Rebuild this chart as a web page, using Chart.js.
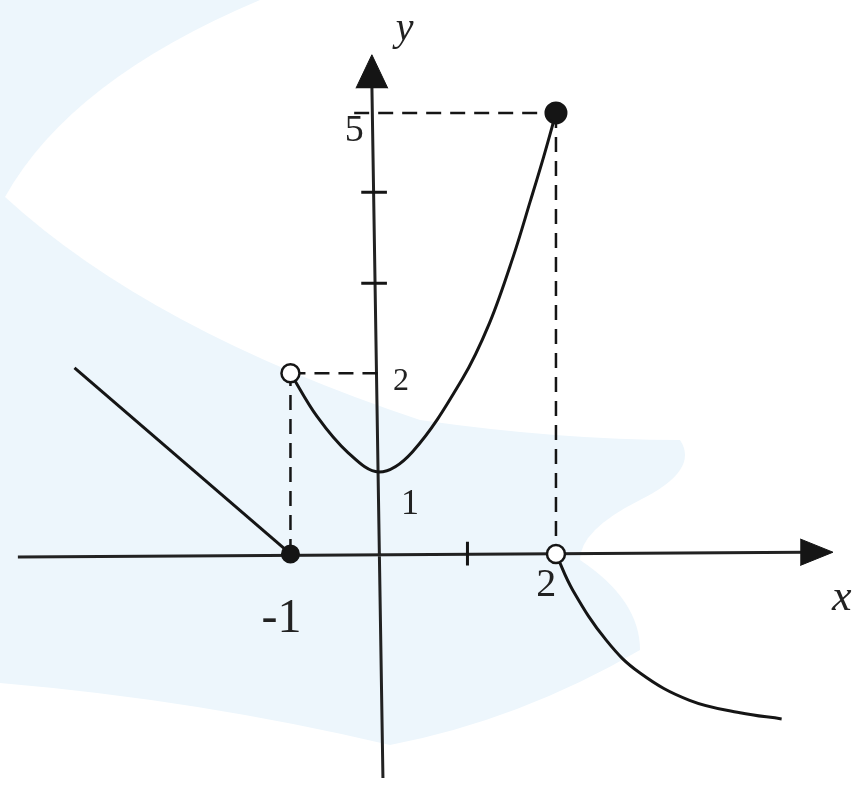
<!DOCTYPE html>
<html>
<head>
<meta charset="utf-8">
<script src="https://cdn.jsdelivr.net/npm/chart.js@4.4.1/dist/chart.umd.min.js"></script>
<style>
  html, body { margin: 0; padding: 0; background: #fff; }
  #wrap { width: 852px; height: 787px; }
</style>
</head>
<body>
<div id="wrap"><canvas id="graph" width="852" height="787"></canvas></div>
<script>
// values (one x unit ~ 88.5px, one y unit ~ 88.2px)
const rayX = [-3.44, -1];
const rayY = [2.11, 0];
const parabolaX = [-1, -0.7, -0.35, 0, 0.38, 0.94, 1.25, 1.52, 1.71, 1.86, 2];
const parabolaY = [2.05, 1.56, 1.15, 0.93, 1.16, 1.98, 2.62, 3.38, 4.0, 4.5, 5];
const tailX = [2, 2.19, 2.57, 2.95, 3.51, 4.08, 4.55];
const tailY = [0, -0.41, -0.98, -1.35, -1.66, -1.80, -1.87];

const closedX = [-1, 2];
const closedY = [0, 5];
const openX = [-1, 2];
const openY = [2.05, 0];

// dashed guides, one pair per segment
const guideX = [[-1, -1], [-1, 0.05], [-0.28, 2], [2, 2]];
const guideY = [[0, 2.05], [2.05, 2.05], [5, 5], [5, 0]];

// axes (the scan is a little tilted) and arrow heads
const axisX = [[-4.08, 4.81], [0.045, -0.08]];
const axisY = [[-0.034, 0.02], [-2.54, 5.32]];
const arrowX = [[4.76, 5.13, 4.76], [-0.26, -0.08, 0.10]];
const arrowY = [[0.17, 0.02, -0.13], [5.28, 5.66, 5.28]];

const xTicks = [1];
const yTicks = [3.07, 4.1];

const labelText = ['y', 'x', '5', '2', '1', '-1', '2'];
const labelX = [0.29, 5.23, -0.28, 0.25, 0.35, -1.10, 1.89];
const labelY = [5.95, -0.5, 4.8, 1.95, 0.56, -0.74, -0.36];

const pts = (xs, ys) => xs.map((x, i) => ({ x, y: ys[i] }));
const segs = (xs, ys) => {
    const out = [];
    xs.forEach((sx, i) => {
        if (i) out.push({ x: sx[0], y: null });
        out.push(...pts(sx, ys[i]));
    });
    return out;
};

const ink = '#151515';

const tickSegs = segs(
    [...xTicks.map(v => [v, v]), ...yTicks.map(() => [-0.2, 0.09])],
    [...xTicks.map(() => [0.14, -0.13]), ...yTicks.map(v => [v, v])]
);

// faint logo behind the drawing
const watermark = {
    id: 'watermark',
    beforeDraw(chart) {
        const c = chart.ctx;
        c.save();
        c.fillStyle = '#fff';
        c.fillRect(0, 0, chart.width, chart.height);
        c.fillStyle = '#edf6fc';
        c.beginPath();
        c.moveTo(0, 0);
        c.lineTo(260, 0);
        c.quadraticCurveTo(70, 80, 5, 197);
        c.quadraticCurveTo(150, 330, 420, 420);
        c.quadraticCurveTo(560, 440, 680, 440);
        c.quadraticCurveTo(700, 470, 640, 500);
        c.quadraticCurveTo(580, 530, 580, 560);
        c.quadraticCurveTo(640, 600, 640, 650);
        c.quadraticCurveTo(520, 720, 390, 745);
        c.quadraticCurveTo(200, 700, 0, 683);
        c.closePath();
        c.fill();
        c.restore();
    }
};

const labels = {
    id: 'labels',
    afterDraw(chart) {
        const c = chart.ctx, sx = chart.scales.x, sy = chart.scales.y;
        const fonts = ['italic 40px "Liberation Serif"', 'italic 44px "Liberation Serif"',
            '38px "Liberation Serif"', '32px "Liberation Serif"', '36px "Liberation Serif"',
            '48px "Liberation Serif"', '40px "Liberation Serif"'];
        c.save();
        c.fillStyle = '#222';
        c.textAlign = 'center';
        c.textBaseline = 'middle';
        labelText.forEach((t, i) => {
            c.font = fonts[i];
            c.fillText(t, sx.getPixelForValue(labelX[i]), sy.getPixelForValue(labelY[i]));
        });
        c.restore();
    }
};

const line = (data, extra) => Object.assign({
    data, borderColor: ink, borderWidth: 3, pointRadius: 0, fill: false, spanGaps: false
}, extra);

new Chart(document.getElementById('graph'), {
    type: 'line',
    data: {
        datasets: [
            line(pts(openX, openY), { showLine: false, pointRadius: 9, pointBorderWidth: 2.5,
                pointBackgroundColor: '#fff', pointBorderColor: ink }),
            line(pts(closedX, closedY), { showLine: false, pointRadius: [8, 10],
                pointBackgroundColor: ink, pointBorderColor: ink }),
            line(pts(rayX, rayY)),
            line(pts(parabolaX, parabolaY), { tension: 0.35 }),
            line(pts(tailX, tailY), { tension: 0.4 }),
            line(segs(guideX, guideY), { borderWidth: 2.5, borderDash: [15, 9] }),
            line(tickSegs, { borderWidth: 3 }),
            line(pts(arrowX[0], arrowY[0]), { fill: 'shape', backgroundColor: ink, borderWidth: 1 }),
            line(pts(arrowX[1], arrowY[1]), { fill: 'shape', backgroundColor: ink, borderWidth: 1 }),
            line(segs(axisX, axisY), { borderWidth: 3, borderColor: '#222' })
        ]
    },
    options: {
        responsive: false,
        animation: false,
        events: [],
        layout: { padding: 0, autoPadding: false },
        plugins: { legend: { display: false }, tooltip: { enabled: false } },
        scales: {
            x: { type: 'linear', min: -4.282, max: 5.345, display: false },
            y: { type: 'linear', min: -2.642, max: 6.281, display: false }
        }
    },
    plugins: [watermark, labels]
});
</script>
</body>
</html>
